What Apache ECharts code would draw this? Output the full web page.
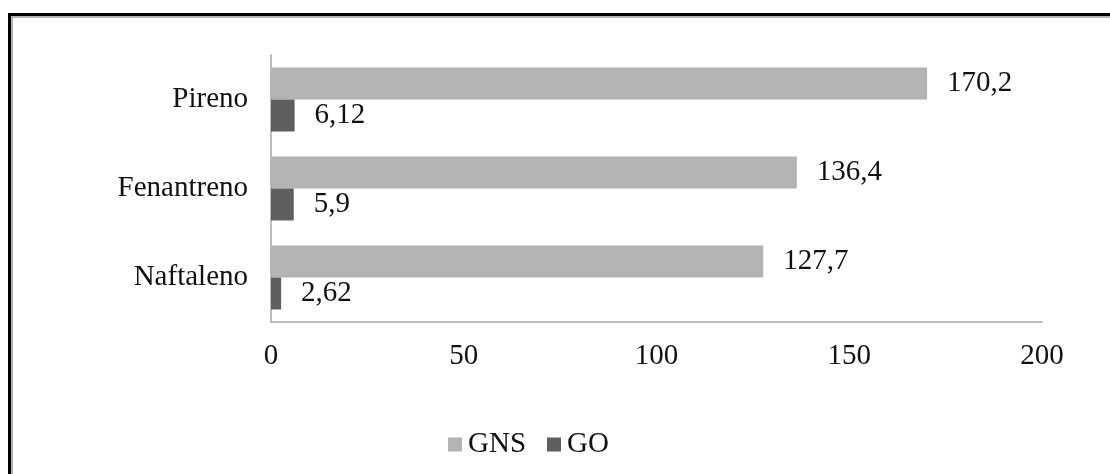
<!DOCTYPE html>
<html>
<head>
<meta charset="utf-8">
<style>
  html, body { margin: 0; padding: 0; background: #fff; }
  #chart { width: 1110px; height: 474px; }
</style>
<script src="https://cdn.jsdelivr.net/npm/echarts@6/dist/echarts.min.js"></script>
</head>
<body>
<div id="chart"></div>
<script>
// Compounds on the category axis (bottom to top)
const categories = ['Naftaleno', 'Fenantreno', 'Pireno'];
// Values per material
const gnsValues = [127.7, 136.4, 170.2];
const goValues = [2.62, 5.9, 6.12];
// Value axis ticks
const xTicks = [0, 50, 100, 150, 200];

const serif = 'Liberation Serif';
const fs = 29;
const fmt = v => String(v).replace('.', ',');

const chart = echarts.init(document.getElementById('chart'), null, { renderer: 'canvas' });

const labelStyle = {
  show: true,
  position: 'right',
  distance: 20,
  fontFamily: serif,
  fontSize: fs,
  color: '#111',
  formatter: p => fmt(p.value)
};

chart.setOption({
  animation: false,
  backgroundColor: '#fff',
  textStyle: { fontFamily: serif },
  graphic: [
    { type: 'rect', shape: { x: 9.5, y: 14.5, width: 1300, height: 700 }, style: { fill: 'none', stroke: '#000', lineWidth: 3 }, silent: true },
    { type: 'rect', shape: { x: 12, y: 17, width: 1300, height: 700 }, style: { fill: 'none', stroke: '#999', lineWidth: 1.5 }, silent: true }
  ],
  grid: { left: 271, right: 68, top: 55, bottom: 152, containLabel: false },
  legend: {
    data: ['GNS', 'GO'],
    left: 443,
    top: 425,
    itemWidth: 14,
    itemHeight: 14,
    itemGap: 21,
    icon: 'rect',
    formatter: '{t|{name}}',
    textStyle: {
      fontFamily: serif, fontSize: fs, color: '#111',
      rich: { t: { fontFamily: serif, fontSize: fs, color: '#111', padding: [0, 0, 0, 1] } }
    }
  },
  xAxis: {
    type: 'value',
    min: xTicks[0],
    max: xTicks[xTicks.length - 1],
    interval: xTicks[1] - xTicks[0],
    axisLine: { show: true, lineStyle: { color: '#a6a6a6', width: 1.5 } },
    axisTick: { show: false },
    splitLine: { show: false },
    axisLabel: { fontFamily: serif, fontSize: fs, color: '#111', margin: 20 }
  },
  yAxis: {
    type: 'category',
    data: categories,
    axisLine: { show: true, lineStyle: { color: '#a6a6a6', width: 1.5 } },
    axisTick: { show: false },
    axisLabel: { fontFamily: serif, fontSize: fs, color: '#111', margin: 23 }
  },
  series: [
    {
      name: 'GNS',
      type: 'bar',
      data: gnsValues,
      barWidth: 32,
      barGap: '0%',
      itemStyle: { color: '#b3b3b3' },
      label: labelStyle
    },
    {
      name: 'GO',
      type: 'bar',
      data: goValues,
      barWidth: 32,
      barGap: '0%',
      itemStyle: { color: '#5f5f5f' },
      label: labelStyle
    }
  ]
});
</script>
</body>
</html>
